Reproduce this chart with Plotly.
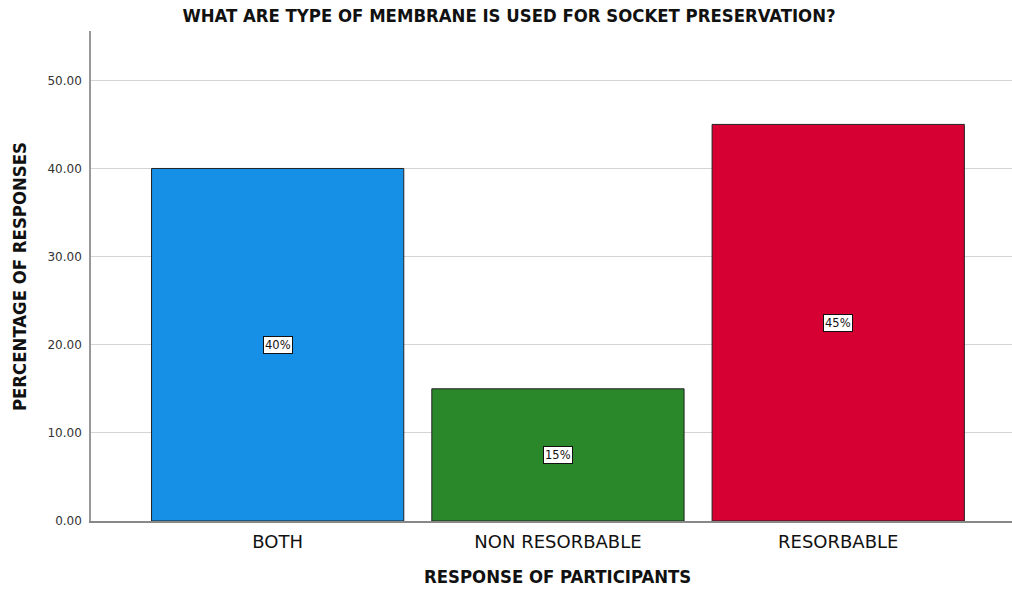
import plotly.graph_objects as go

categories = ["BOTH", "NON RESORBABLE", "RESORBABLE"]
values = [40, 15, 45]
labels = ["40%", "15%", "45%"]
colors = ["#1590E6", "#2A872A", "#D70032"]
tick_vals = [0, 10, 20, 30, 40, 50]
tick_text = ["0.00", "10.00", "20.00", "30.00", "40.00", "50.00"]

TITLE_FONT = "DejaVu Sans Condensed"
TITLE_SIZE = 18.4

fig = go.Figure()
fig.add_trace(go.Bar(
    x=categories, y=values,
    marker=dict(color=colors, line=dict(color="#222222", width=1)),
    width=0.9, hoverinfo="skip"
))

for c, v, t in zip(categories, values, labels):
    fig.add_annotation(
        x=c, y=v / 2, text=t, showarrow=False,
        font=dict(family="DejaVu Sans", size=11.5, color="#111111"),
        bgcolor="white", bordercolor="#111111", borderwidth=1, borderpad=1,
    )

# axis titles as paper annotations for exact placement
fig.add_annotation(
    xref="paper", yref="paper", x=0.507, y=-0.114, yanchor="middle",
    text="<b>RESPONSE OF PARTICIPANTS</b>", showarrow=False,
    font=dict(family=TITLE_FONT, size=TITLE_SIZE, color="#111111"),
)
fig.add_annotation(
    xref="paper", yref="paper", x=-0.077, y=0.498, xanchor="center", yanchor="middle",
    text="<b>PERCENTAGE OF RESPONSES</b>", showarrow=False, textangle=-90,
    font=dict(family=TITLE_FONT, size=TITLE_SIZE, color="#111111"),
)

fig.update_layout(
    width=1012, height=590,
    margin=dict(l=91, r=0, t=31, b=69),
    plot_bgcolor="white", paper_bgcolor="white",
    showlegend=False,
    title=dict(
        text="<b>WHAT ARE TYPE OF MEMBRANE IS USED FOR SOCKET PRESERVATION?</b>",
        x=0.503, xanchor="center", y=0.973, yanchor="middle",
        font=dict(family=TITLE_FONT, size=TITLE_SIZE, color="#111111"),
    ),
    xaxis=dict(
        range=[-0.666, 2.62],
        showline=True, linecolor="#888888", linewidth=1.5,
        ticks="outside", ticklen=4, tickcolor="rgba(0,0,0,0)",
        showgrid=False, automargin=False,
        tickfont=dict(family="DejaVu Sans", size=18, color="#111111"),
    ),
    yaxis=dict(
        range=[0, 55.6],
        tickvals=tick_vals, ticktext=tick_text,
        showline=True, linecolor="#999999", linewidth=1.5,
        showgrid=True, gridcolor="#d4d4d4", gridwidth=1,
        zeroline=False, automargin=False,
        ticks="outside", ticklen=5, tickcolor="rgba(0,0,0,0)",
        tickfont=dict(family="DejaVu Sans", size=12, color="#333333"),
    ),
)

fig.write_html("out.html")
